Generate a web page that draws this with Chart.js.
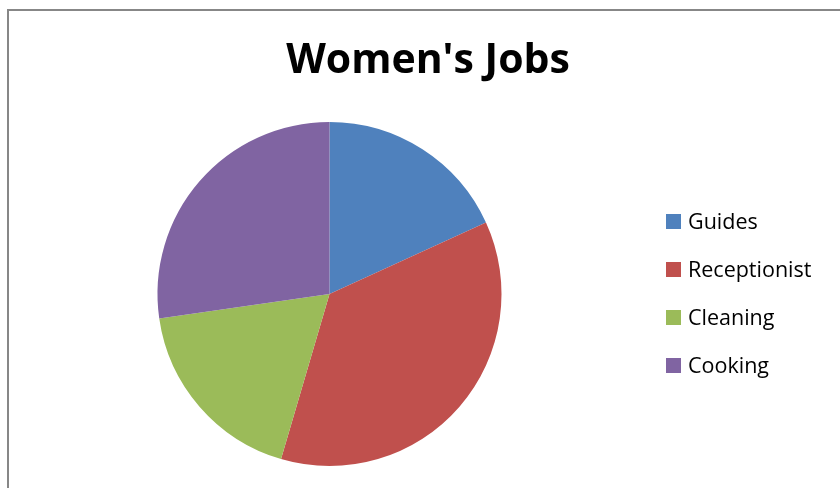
<!DOCTYPE html>
<html>
<head>
<meta charset="utf-8">
<script src="https://cdn.jsdelivr.net/npm/chart.js@4/dist/chart.umd.min.js"></script>
<style>
  html, body { margin: 0; padding: 0; background: #fff; overflow: hidden; }
  #wrap { position: relative; width: 840px; height: 488px; }
  #frame { position: absolute; left: 7px; top: 9px; width: 900px; height: 600px; border: 2px solid #878787; box-sizing: border-box; pointer-events: none; }
  canvas { position: absolute; left: 0; top: 0; }
</style>
</head>
<body>
<div id="wrap">
  <canvas id="c" width="840" height="488"></canvas>
  <div id="frame"></div>
</div>
<script>
const chartTitle = "Women's Jobs";
const categories = ["Guides", "Receptionist", "Cleaning", "Cooking"];
const jobCounts = [2, 4, 2, 3];
const sliceColors = ["#4F81BD", "#C0504D", "#9BBB59", "#8064A2"];

const customText = {
  id: 'customText',
  afterDraw(chart) {
    const ctx = chart.ctx;
    ctx.save();
    ctx.fillStyle = '#000';
    ctx.textBaseline = 'alphabetic';
    ctx.textAlign = 'center';
    ctx.font = 'bold 41px "Open Sans"';
    ctx.fillText(chartTitle, 428, 73);
    ctx.textAlign = 'left';
    ctx.font = '21.5px "Open Sans"';
    const labels = chart.data.labels;
    const colors = chart.data.datasets[0].backgroundColor;
    labels.forEach((lab, i) => {
      const base = 229 + i * 48;
      ctx.fillStyle = colors[i];
      ctx.fillRect(666, base - 15, 15, 15);
      ctx.fillStyle = '#000';
      ctx.fillText(lab, 688, base);
    });
    ctx.restore();
  }
};

new Chart(document.getElementById('c'), {
  type: 'pie',
  data: {
    labels: categories,
    datasets: [{
      data: jobCounts,
      backgroundColor: sliceColors,
      borderWidth: 0
    }]
  },
  options: {
    responsive: false,
    animation: false,
    layout: { padding: { left: 157, right: 338, top: 122, bottom: 22 } },
    plugins: {
      legend: { display: false },
      title: { display: false },
      tooltip: { enabled: false }
    }
  },
  plugins: [customText]
});
</script>
</body>
</html>
